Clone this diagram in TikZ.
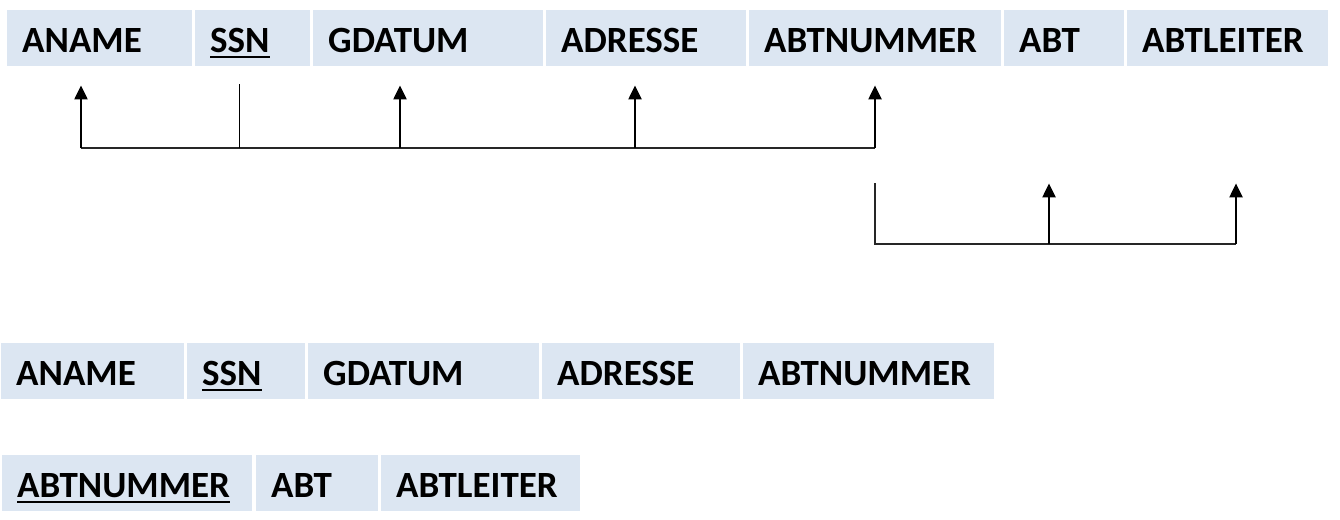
\documentclass[tikz,border=0pt]{standalone}
\usepackage{fontspec}
\setmainfont{Carlito}
\usetikzlibrary{arrows.meta}

\definecolor{cellblue}{HTML}{DCE6F2}
\newcommand{\keyul}[1]{\setbox0\hbox{#1}\rlap{\rule[-6pt]{\wd0}{2.5pt}}#1}

\begin{document}
\begin{tikzpicture}[x=1pt, y=-1pt,
  attr/.style={fill=cellblue, anchor=north west, inner xsep=15pt, inner ysep=4pt,
    text height=38pt, text depth=10pt, align=left,
    font=\fontsize{37}{40}\selectfont\bfseries},
  bus/.style={line width=1.3pt, black!85},
  fd/.style={-{Triangle[width=13pt, length=14pt]}, line width=2.2pt}]

  \useasboundingbox (0,0) rectangle (1340,519);

  % Relation before normalisation
  \node[attr, text width=155pt] (aname) at (7,10) {ANAME};
  \node[attr, text width=85pt] (ssn) at (195,10) {\keyul{SSN}};
  \node[attr, text width=200pt] (gdatum) at (313,10) {GDATUM};
  \node[attr, text width=170pt] (adresse) at (546,10) {ADRESSE};
  \node[attr, text width=222pt] (abtnr) at (749,10) {ABTNUMMER};
  \node[attr, text width=90pt] (abt) at (1004,10) {ABT};
  \node[attr, text width=171pt] (abtleiter) at (1127,10) {ABTLEITER};

  % Dependencies of SSN
  \coordinate (s1) at (81,148);
  \coordinate (s2) at (239,148);
  \coordinate (s3) at (400,148);
  \coordinate (s4) at (635,148);
  \coordinate (s5) at (875,148);
  \draw[bus] (s1) -- (s5);
  \draw[line width=1pt, shorten >=18pt] (s2) -- (s2 |- ssn.south);
  \draw[fd, shorten >=19pt] (s1) -- (s1 |- aname.south);
  \draw[fd, shorten >=19pt] (s3) -- (s3 |- gdatum.south);
  \draw[fd, shorten >=19pt] (s4) -- (s4 |- adresse.south);
  \draw[fd, shorten >=19pt] (s5) -- (s5 |- abtnr.south);

  % Dependencies of ABTNUMMER
  \coordinate (t0) at (875,183);
  \coordinate (t1) at (875,244);
  \coordinate (t2) at (1049,244);
  \coordinate (t3) at (1236,244);
  \draw[bus] (t0) -- (t1) -- (t3);
  \draw[fd, shorten >=117pt] (t2) -- (t2 |- abt.south);
  \draw[fd, shorten >=117pt] (t3) -- (t3 |- abtleiter.south);

  % Decomposed relations
  \node[attr, text width=153pt] (aname2) at (1,343) {ANAME};
  \node[attr, text width=88pt] (ssn2) at (187,343) {\keyul{SSN}};
  \node[attr, text width=201pt] (gdatum2) at (308,343) {GDATUM};
  \node[attr, text width=168pt] (adresse2) at (542,343) {ADRESSE};
  \node[attr, text width=221pt] (abtnr2) at (743,343) {ABTNUMMER};

  \node[attr, text width=220pt] (abtnr3) at (2,455) {\keyul{ABTNUMMER}};
  \node[attr, text width=92pt] (abt3) at (256,455) {ABT};
  \node[attr, text width=169pt] (abtleiter3) at (381,455) {ABTLEITER};

\end{tikzpicture}
\end{document}
